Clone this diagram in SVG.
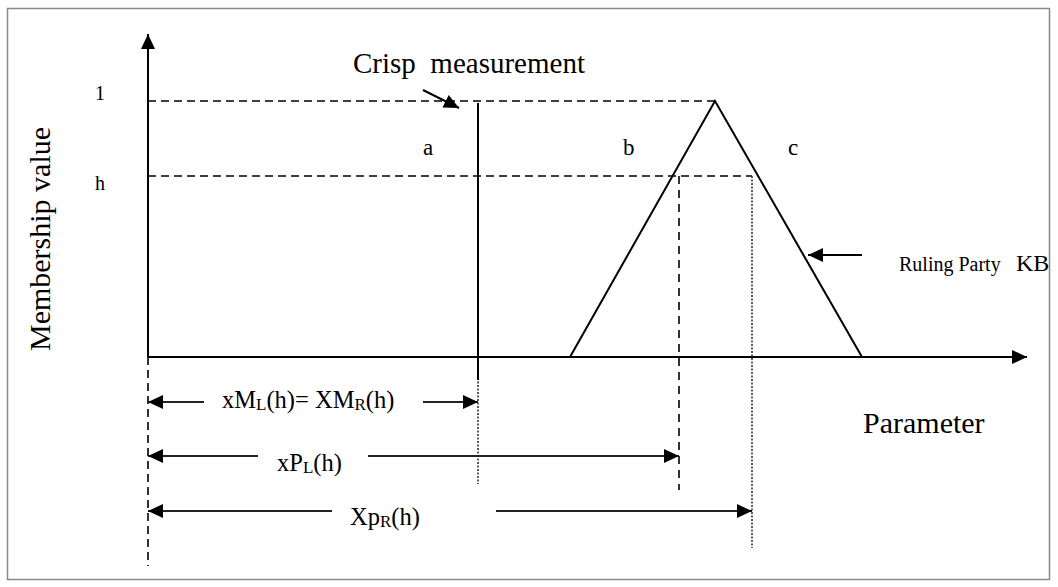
<svg xmlns="http://www.w3.org/2000/svg" width="1058" height="587" viewBox="0 0 1058 587">
<style>
.t{font-family:"Liberation Serif","Times New Roman",serif;fill:#000}
.ln{stroke:#000;stroke-width:2;fill:none}
.dim{stroke:#222;stroke-width:2;fill:none}
.dash{stroke:#000;stroke-width:1.6;stroke-dasharray:8,5;fill:none}
.dash2{stroke:#333;stroke-width:2;stroke-dasharray:8,6;fill:none}
.dot{stroke:#333;stroke-width:1.6;stroke-dasharray:2,1.5;fill:none}
</style>
<defs>
<marker id="ah" markerUnits="userSpaceOnUse" markerWidth="16" markerHeight="14" refX="15" refY="7" orient="auto-start-reverse">
<path d="M0,0 L15,7 L0,14 Z" fill="#000"/>
</marker>
</defs>
<rect x="7.5" y="8.5" width="1042" height="571" fill="#fff" stroke="#888" stroke-width="1.5"/>
<g id="axes">
<line class="ln" x1="148" y1="357" x2="148" y2="34" marker-end="url(#ah)"/>
<line class="ln" x1="148" y1="357" x2="1027" y2="357" marker-end="url(#ah)"/>
</g>
<g id="guides">
<line class="dash" x1="148" y1="101" x2="715" y2="101"/>
<line class="dash" x1="148" y1="176" x2="752" y2="176"/>
<line class="dash" x1="148" y1="357" x2="148" y2="566"/>
<line class="dash2" x1="679" y1="176" x2="679" y2="490"/>
<line class="dot" x1="752" y1="176" x2="752" y2="548"/>
<line class="dot" x1="478" y1="378" x2="478" y2="484"/>
</g>
<g id="crisp">
<line class="ln" x1="478" y1="103" x2="478" y2="380"/>
<line class="ln" x1="423" y1="90" x2="459" y2="108" marker-end="url(#ah)"/>
<text class="t" x="353" y="73" font-size="29" xml:space="preserve">Crisp  measurement</text>
</g>
<g id="membership">
<polyline class="ln" points="570,357 715,101 862,357"/>
<line class="ln" x1="862" y1="255" x2="808" y2="255" marker-end="url(#ah)"/>
<text class="t" x="899" y="271" font-size="20">Ruling Party</text>
<text class="t" x="1016" y="271" font-size="24">KB</text>
</g>
<g id="labels">
<text class="t" x="95" y="100" font-size="20">1</text>
<text class="t" x="95" y="190" font-size="20">h</text>
<text class="t" x="423" y="155" font-size="23">a</text>
<text class="t" x="623" y="155" font-size="23">b</text>
<text class="t" x="788" y="155" font-size="23">c</text>
<text class="t" font-size="30" text-anchor="middle" transform="translate(50,239) rotate(-90)">Membership value</text>
<text class="t" x="863" y="433" font-size="30">Parameter</text>
</g>
<g id="connectors">
<line class="dim" x1="204" y1="402" x2="148" y2="402" marker-end="url(#ah)"/>
<line class="dim" x1="423" y1="402" x2="478" y2="402" marker-end="url(#ah)"/>
<line class="dim" x1="258" y1="456" x2="148" y2="456" marker-end="url(#ah)"/>
<line class="dim" x1="368" y1="456" x2="679" y2="456" marker-end="url(#ah)"/>
<line class="dim" x1="332" y1="511" x2="148" y2="511" marker-end="url(#ah)"/>
<line class="dim" x1="496" y1="511" x2="752" y2="511" marker-end="url(#ah)"/>
</g>
<g id="dimlabels">
<text class="t" x="222" y="408" font-size="24.5">xM<tspan font-size="17" dy="2">L</tspan><tspan dy="-2">(h)= XM</tspan><tspan font-size="17" dy="2">R</tspan><tspan dy="-2">(h)</tspan></text>
<text class="t" x="277" y="471" font-size="24.5">xP<tspan font-size="17" dy="2">L</tspan><tspan dy="-2">(h)</tspan></text>
<text class="t" x="350" y="525" font-size="24.5">Xp<tspan font-size="17" dy="2">R</tspan><tspan dy="-2">(h)</tspan></text>
</g>
</svg>
